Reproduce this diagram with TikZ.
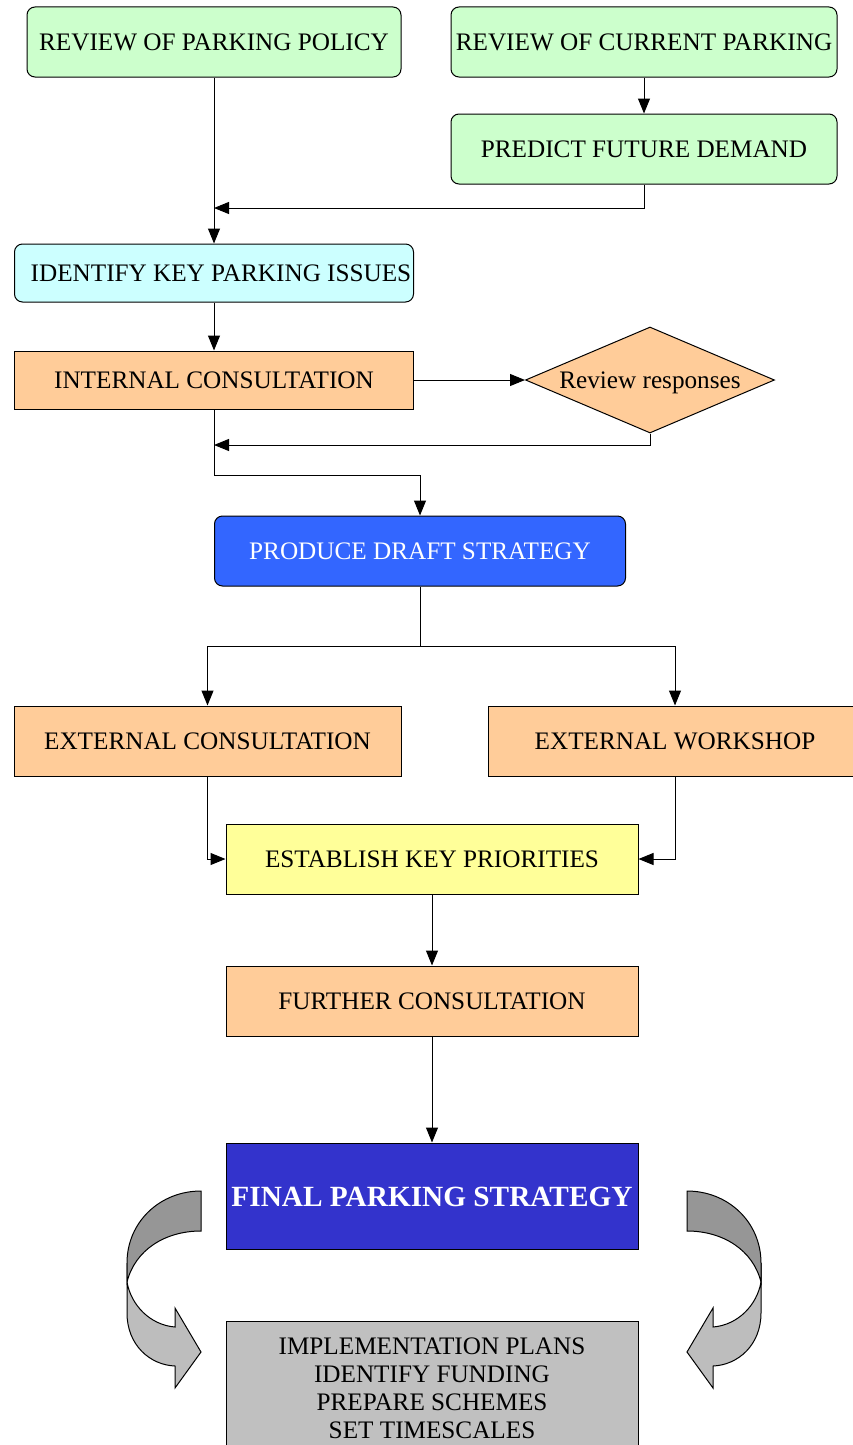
\documentclass[tikz,border=0pt]{standalone}
\usepackage{fontspec}
\setmainfont{Liberation Serif}
\usetikzlibrary{shapes.geometric,arrows.meta}
\definecolor{planGreen}{HTML}{CCFFCC}
\definecolor{planCyan}{HTML}{CCFFFF}
\definecolor{planPeach}{HTML}{FFCC99}
\definecolor{planBlue}{HTML}{3366FF}
\definecolor{planYellow}{HTML}{FFFF99}
\definecolor{planNavy}{HTML}{3333CC}
\definecolor{planGrey}{HTML}{C0C0C0}
\definecolor{curlDark}{HTML}{969696}
\definecolor{curlLight}{HTML}{BDBDBD}
% one curled arrow, drawn at the left; mirrored for the right one
\newcommand{\curlarrow}{%
\filldraw[fill=curlLight] (127,1263) -- (127,1313) .. controls (127,1345) and (150,1365) .. (175,1366)
	-- (175,1388) -- (201,1352) -- (175,1308) -- (175,1327) .. controls (150,1325) and (131,1305) .. (127,1282) -- cycle;
\filldraw[fill=curlDark] (201,1191) .. controls (160,1191) and (127,1222) .. (127,1263) -- (127,1282)
	.. controls (135,1250) and (165,1231) .. (201,1231) -- cycle;}

\begin{document}
\begin{tikzpicture}[x=1pt,y=-1pt,line width=1pt,
	box/.style={draw=black, inner sep=0pt, align=center, text height=17pt, text depth=0pt, font=\fontsize{25.2}{28}\selectfont},
	rbox/.style={box, rounded corners=8pt},
	arr/.style={-{Triangle[length=15pt,width=12pt]}}]
\useasboundingbox (0,0) rectangle (853,1445);

% top row
\node[rbox, fill=planGreen, minimum width=374, minimum height=70] (policy) at (214,42) {REVIEW OF PARKING POLICY};
\node[rbox, fill=planGreen, minimum width=386, minimum height=70] (current) at (644,42) {REVIEW OF CURRENT PARKING};
\node[rbox, fill=planGreen, minimum width=386, minimum height=70] (predict) at (644,149) {PREDICT FUTURE DEMAND};

% issues and internal consultation
\node[rbox, fill=planCyan, minimum width=399, minimum height=58] (issues) at (214,273) {\hspace*{14pt}IDENTIFY KEY PARKING ISSUES};
\node[box, fill=planPeach, minimum width=399, minimum height=58] (internal) at (214,380) {INTERNAL CONSULTATION};
\node[box, diamond, aspect=2.35, fill=planPeach, minimum width=249, minimum height=106] (responses) at (650,380) {Review responses};

% draft
\node[rbox, fill=planBlue, text=white, minimum width=411, minimum height=70] (draft) at (420,551) {PRODUCE DRAFT STRATEGY};

% external
\node[box, fill=planPeach, minimum width=387, minimum height=70] (extcons) at (207.5,741) {EXTERNAL CONSULTATION};
\node[box, fill=planPeach, minimum width=374, minimum height=70] (workshop) at (675,741) {EXTERNAL WORKSHOP};

% lower column
\node[box, fill=planYellow, minimum width=412, minimum height=70] (priorities) at (432,859) {ESTABLISH KEY PRIORITIES};
\node[box, fill=planPeach, minimum width=412, minimum height=70] (further) at (432,1001) {FURTHER CONSULTATION};
\node[box, fill=planNavy, text=white, text height=20pt, font=\fontsize{29.3}{32}\selectfont\bfseries, minimum width=412, minimum height=106] (final) at (432,1196) {FINAL PARKING STRATEGY};
\node[box, fill=planGrey, text height={}, text depth={}, minimum width=412, minimum height=134] (plans) at (432,1388) {IMPLEMENTATION PLANS\\IDENTIFY FUNDING\\PREPARE SCHEMES\\SET TIMESCALES};

% junctions
\coordinate (mergeA) at (214,208);
\coordinate (mergeB) at (214,445);
\coordinate (bendC) at (214,475);
\coordinate (splitD) at (420,646);

% connectors
\draw[arr] (policy.south) -- (issues.north);
\draw[arr] (current.south) -- (predict.north);
\draw[arr] (predict.south) |- (mergeA);
\draw[arr] (issues.south) -- (internal.north);
\draw[arr] (internal.east) -- (responses.west);
\draw[arr] (responses.south) |- (mergeB);
\draw[arr] (internal.south) -- (bendC) -| (draft.north);
\draw (draft.south) -- (splitD);
\draw[arr] (splitD) -| (extcons.north);
\draw[arr] (splitD) -| (workshop.north);
\draw[arr] (extcons.south) |- (priorities.west);
\draw[arr] (workshop.south) |- (priorities.east);
\draw[arr] (priorities.south) -- (further.north);
\draw[arr] (further.south) -- (final.north);

% curled arrows
\curlarrow
\begin{scope}[xshift=888pt, xscale=-1]
\curlarrow
\end{scope}

\end{tikzpicture}
\end{document}
